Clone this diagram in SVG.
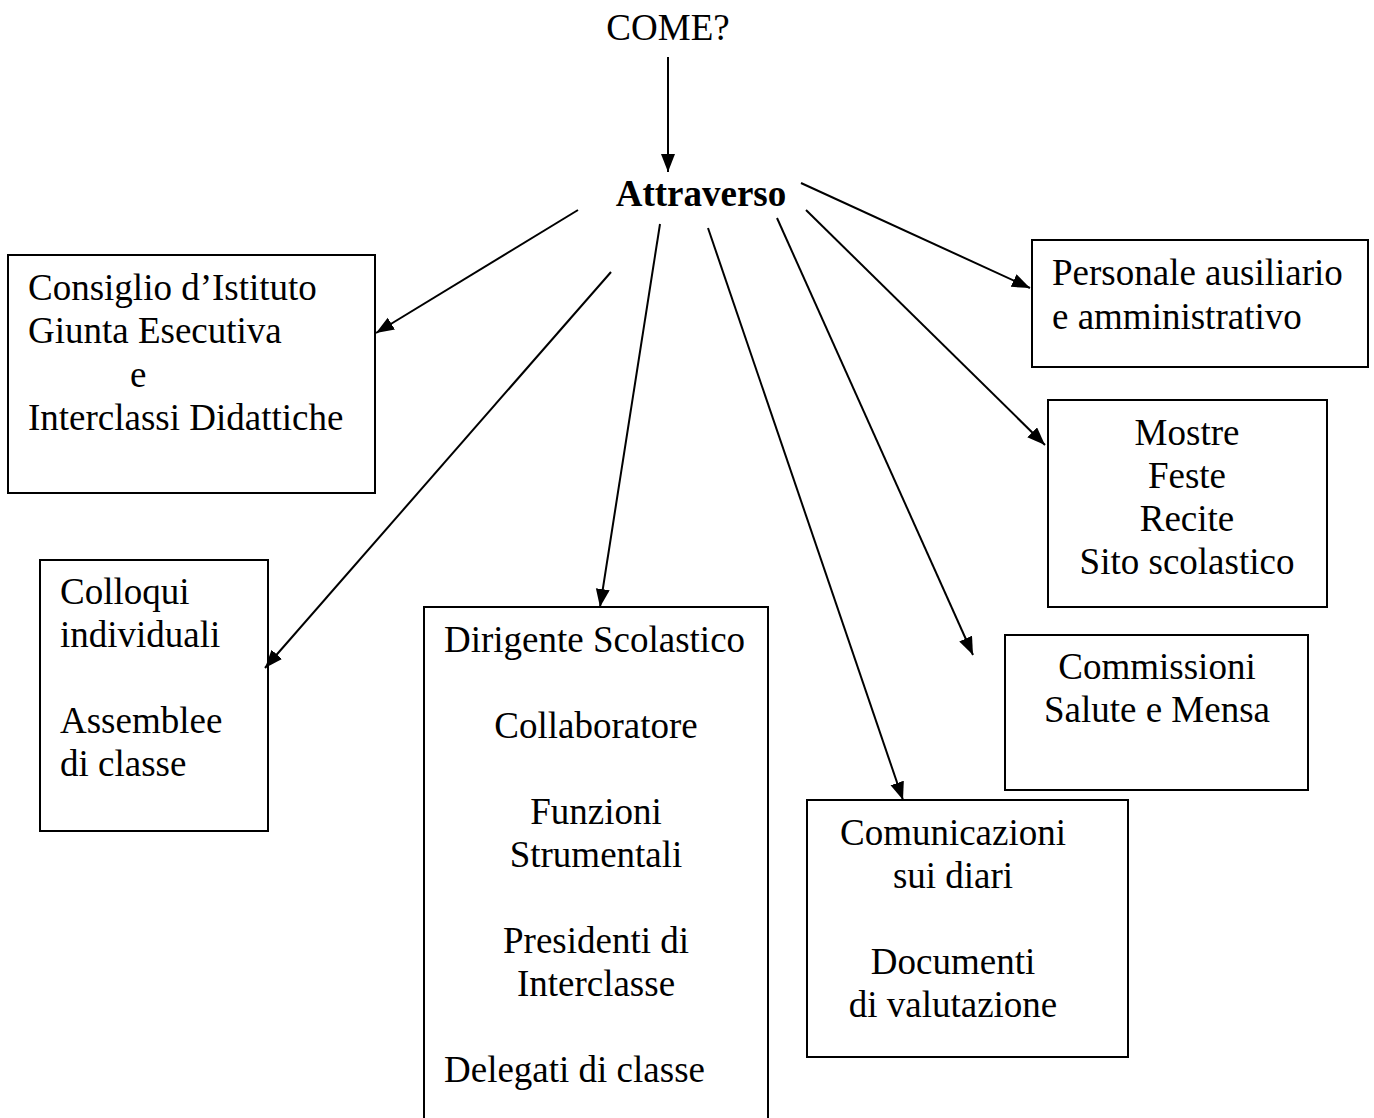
<svg xmlns="http://www.w3.org/2000/svg" width="1374" height="1118" viewBox="0 0 1374 1118">
<style>
  text { font-family: "Liberation Serif", "Times New Roman", serif; font-size: 37px; fill: #000; }
  .c { text-anchor: middle; }
  .b { font-weight: bold; }
  .box { fill: #fff; stroke: #000; stroke-width: 2; }
  .conn line { stroke: #000; stroke-width: 2; marker-end: url(#ah); }
</style>
<defs>
  <marker id="ah" markerUnits="userSpaceOnUse" markerWidth="20" markerHeight="16" refX="18" refY="7" orient="auto">
    <path d="M0,0 L18,7 L0,14 Z" fill="#000"/>
  </marker>
</defs>
<rect width="1374" height="1118" fill="#fff"/>

<g id="come"><text class="c" x="668" y="40">COME?</text></g>
<g id="attraverso"><text class="c b" x="701" y="206">Attraverso</text></g>

<g id="consiglio">
  <rect class="box" x="8" y="255" width="367" height="238"/>
  <text x="28" y="300">Consiglio d’Istituto</text>
  <text x="28" y="343">Giunta Esecutiva</text>
  <text x="130" y="387">e</text>
  <text x="28" y="430">Interclassi Didattiche</text>
</g>

<g id="colloqui">
  <rect class="box" x="40" y="560" width="228" height="271"/>
  <text x="60" y="604">Colloqui</text>
  <text x="60" y="647">individuali</text>
  <text x="60" y="733">Assemblee</text>
  <text x="60" y="776">di classe</text>
</g>

<g id="dirigente">
  <rect class="box" x="424" y="607" width="344" height="530"/>
  <text x="444" y="652">Dirigente Scolastico</text>
  <text class="c" x="596" y="738">Collaboratore</text>
  <text class="c" x="596" y="824">Funzioni</text>
  <text class="c" x="596" y="867">Strumentali</text>
  <text class="c" x="596" y="953">Presidenti di</text>
  <text class="c" x="596" y="996">Interclasse</text>
  <text x="444" y="1082">Delegati di classe</text>
</g>

<g id="comunicazioni">
  <rect class="box" x="807" y="800" width="321" height="257"/>
  <text class="c" x="953" y="845">Comunicazioni</text>
  <text class="c" x="953" y="888">sui diari</text>
  <text class="c" x="953" y="974">Documenti</text>
  <text class="c" x="953" y="1017">di valutazione</text>
</g>

<g id="commissioni">
  <rect class="box" x="1005" y="635" width="303" height="155"/>
  <text class="c" x="1157" y="679">Commissioni</text>
  <text class="c" x="1157" y="722">Salute e Mensa</text>
</g>

<g id="mostre">
  <rect class="box" x="1048" y="400" width="279" height="207"/>
  <text class="c" x="1187" y="445">Mostre</text>
  <text class="c" x="1187" y="488">Feste</text>
  <text class="c" x="1187" y="531">Recite</text>
  <text class="c" x="1187" y="574">Sito scolastico</text>
</g>

<g id="personale">
  <rect class="box" x="1032" y="240" width="336" height="127"/>
  <text x="1052" y="285">Personale ausiliario</text>
  <text x="1052" y="329">e amministrativo</text>
</g>

<g id="connectors" class="conn">
  <line x1="668" y1="57" x2="668" y2="172"/>
  <line x1="578" y1="210" x2="376" y2="333"/>
  <line x1="611" y1="272" x2="265" y2="668"/>
  <line x1="660" y1="224" x2="600" y2="607"/>
  <line x1="708" y1="228" x2="903" y2="800"/>
  <line x1="777" y1="218" x2="973" y2="655"/>
  <line x1="806" y1="210" x2="1045" y2="445"/>
  <line x1="801" y1="183" x2="1030" y2="288"/>
</g>
</svg>
